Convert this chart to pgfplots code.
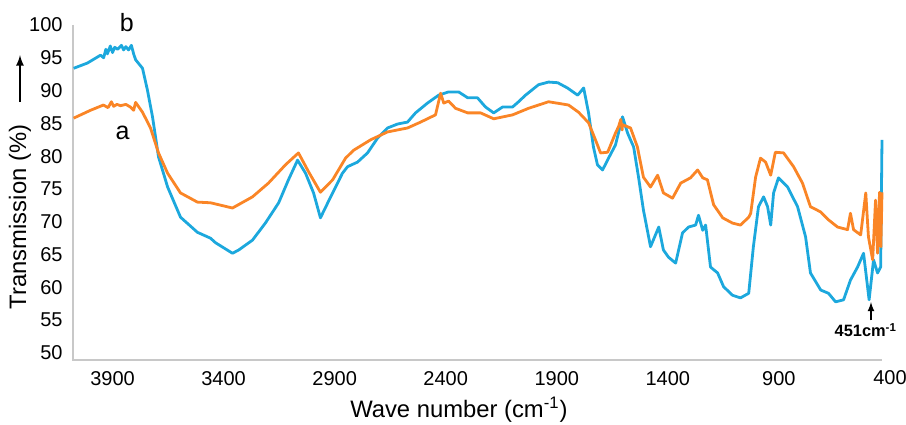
\documentclass[border=0pt]{standalone}
\usepackage{pgfplots}
\pgfplotsset{compat=1.18}
\usepackage{fontspec}
\setmainfont{Liberation Sans}
\definecolor{cblue}{RGB}{28,168,221}
\definecolor{corange}{RGB}{250,133,38}
\definecolor{axgray}{RGB}{200,200,200}
\begin{document}
\begin{tikzpicture}
\path[use as bounding box] (-36.5pt,-32pt) rectangle (416.5pt,180pt);
\begin{axis}[
  at={(0,0)}, anchor=south west,
  scale only axis, width=404.5pt, height=167.5pt,
  x dir=reverse, xmin=436, xmax=4078, ymin=48.93, ymax=100,
  xtick={900,1400,1900,2400,2900,3400,3900}, ytick={50,55,...,100},
  axis line style={draw=none}, major tick length=0pt,
  /pgf/number format/assume math mode=true,
  /pgf/number format/1000 sep={},
  xticklabel style={font=\fontsize{10}{12}\selectfont, yshift=-2pt},
  yticklabel style={font=\fontsize{10}{12}\selectfont, xshift=-1.7pt},
  xlabel={Wave number (cm\textsuperscript{-1})},
  ylabel={Transmission (\%)},
  xlabel style={font=\fontsize{11.9}{14}\selectfont, at={(axis description cs:0.477,-0.149)}, anchor=center},
  ylabel style={font=\fontsize{11.9}{14}\selectfont, at={(axis description cs:-0.0655,0.427)}, anchor=center},
  clip=false,
  every axis plot/.append style={line width=1.4pt, line join=round, no markers},
]
\draw[axgray, line width=0.8pt] (axis description cs:0,1) -- (axis description cs:0,0) -- (axis description cs:1,0);
% b (blue)
\addplot[cblue] coordinates {
(4075,93.4)(4013,94.2)(3954,95.4)(3940,95.0)(3930,96.3)(3923,95.6)(3910,96.8)(3900,95.8)(3890,96.6)(3877,96.3)(3860,96.9)(3850,96.2)(3840,96.7)(3828,96.2)(3815,96.9)(3805,95.6)(3796,94.7)
(3765,93.4)(3743,90.1)(3720,86.0)(3693,79.9)(3652,75.3)(3594,70.7)(3518,68.4)(3459,67.5)(3436,66.8)(3360,65.2)(3332,65.7)(3270,67.2)(3212,69.8)(3152,72.9)(3108,76.4)(3067,79.4)(3031,77.4)(2995,74.4)(2964,70.6)(2918,73.8)(2865,77.4)(2842,78.4)(2797,79.1)(2752,80.5)(2706,82.8)(2662,84.3)(2617,84.9)(2572,85.2)(2536,86.6)(2482,88.1)(2432,89.3)(2387,89.8)(2342,89.8)(2301,88.9)(2257,88.9)(2221,87.5)(2184,86.6)(2144,87.5)(2099,87.5)(2072,88.3)(2041,89.3)(1982,90.9)(1937,91.3)(1896,91.2)(1852,90.4)(1806,89.3)(1779,90.4)(1757,86.6)(1735,81.4)(1717,78.7)(1694,77.9)(1667,79.7)(1636,81.7)(1604,86.0)(1581,83.5)(1554,81.4)(1532,76.8)(1510,71.8)(1478,66.2)(1441,69.2)(1420,65.7)(1397,64.6)(1365,63.7)(1334,68.3)(1307,69.2)(1275,69.5)(1262,71.0)(1243,68.7)(1230,69.5)(1208,63.1)(1176,62.2)(1149,60.1)(1109,58.8)(1073,58.4)(1036,59.1)(1015,66.2)(992,72.3)(969,73.8)(951,72.3)(937,69.5)(924,74.4)(902,76.7)(861,75.3)(816,72.3)(780,67.7)(758,62.2)(712,59.6)(677,59.1)(645,57.8)(609,58.1)(578,61.1)(546,63.1)(519,65.2)(494,58.1)(474,64.2)(456,62.2)(442,63.1)(436,82.5)
};
% a (orange)
\addplot[corange] coordinates {
(4075,85.8)(3999,87.0)(3941,87.8)(3920,87.4)(3905,88.3)(3895,87.6)(3880,87.9)(3864,87.7)(3840,87.9)(3820,87.5)(3805,87.0)(3796,88.2)(3765,86.7)(3729,84.3)(3693,80.5)(3652,77.4)(3594,74.4)(3518,73.0)(3459,72.9)(3360,72.1)(3270,73.8)(3198,75.9)(3121,78.7)(3063,80.5)(3017,77.6)(2964,74.5)(2909,76.4)(2851,79.7)(2815,80.9)(2738,82.5)(2662,83.7)(2572,84.3)(2513,85.2)(2446,86.3)(2423,89.6)(2409,88.1)(2387,88.4)(2356,87.3)(2301,86.6)(2243,86.6)(2184,85.7)(2099,86.3)(2027,87.3)(1937,88.3)(1847,87.8)(1802,86.7)(1757,85.1)(1726,82.5)(1703,80.5)(1671,80.6)(1636,83.5)(1622,84.5)(1612,85.6)(1606,84.0)(1604,84.8)(1568,84.3)(1537,81.4)(1510,76.8)(1478,75.3)(1446,77.1)(1420,74.4)(1379,73.6)(1342,75.9)(1298,76.7)(1266,77.9)(1243,76.7)(1222,76.4)(1194,72.6)(1153,70.6)(1109,69.8)(1073,69.5)(1036,70.7)(1027,71.3)(1005,76.8)(983,79.7)(960,79.1)(937,77.1)(916,80.6)(879,80.5)(834,78.4)(794,75.9)(758,72.3)(712,71.5)(677,70.3)(636,69.2)(591,68.8)(578,71.3)(564,68.8)(532,68.0)(509,74.4)(497,67.7)(478,64.2)(465,73.3)(456,65.2)(447,74.5)(441,66.2)(436,74.5)
};
\node[font=\fontsize{10}{12}\selectfont] at (axis description cs:1.0099,-0.0537) {400};
\node[font=\fontsize{12.5}{14}\selectfont] at (axis description cs:0.0667,1.006) {b};
\node[font=\fontsize{12.5}{14}\selectfont] at (axis description cs:0.0612,0.679) {a};
\draw[-latex, line width=0.8pt] (axis description cs:-0.0655,0.770) -- (axis description cs:-0.0655,0.910);
\draw[-latex, line width=0.6pt] (axis description cs:0.9864,0.118) -- (axis description cs:0.9864,0.173);
\node[font=\bfseries\fontsize{8.2}{10}\selectfont] at (axis description cs:0.980,0.0896) {451cm\textsuperscript{-1}};
\end{axis}
\end{tikzpicture}
\end{document}
